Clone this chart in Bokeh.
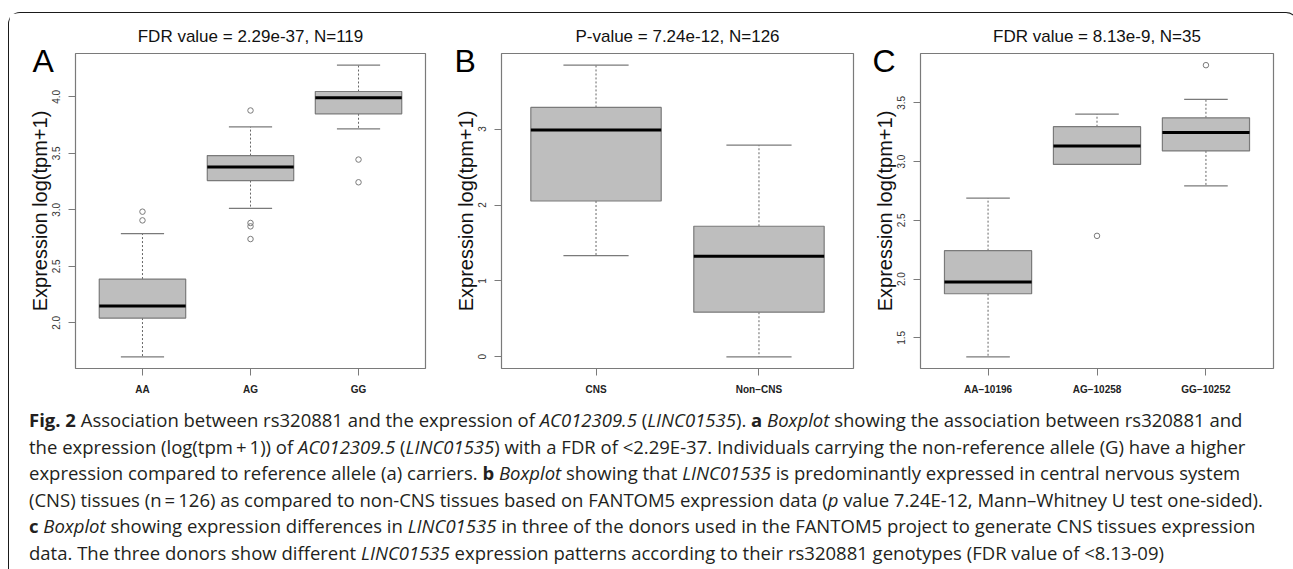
from bokeh.plotting import figure
from bokeh.models import Range1d, FixedTicker, ColumnDataSource, Div
from bokeh.layouts import row, column
from bokeh.embed import file_html
from bokeh.resources import INLINE

# ---------------- data ----------------
A_title = "FDR value = 2.29e-37, N=119"
A_cats = ["AA", "AG", "GG"]
A_lower = [1.700, 3.014, 3.717]
A_q1 = [2.043, 3.259, 3.850]
A_med = [2.149, 3.380, 3.991]
A_q3 = [2.388, 3.480, 4.047]
A_upper = [2.789, 3.734, 4.280]
A_out_cat = ["AA", "AA", "AG", "AG", "AG", "AG", "GG", "GG"]
A_out_val = [2.984, 2.907, 3.879, 2.884, 2.854, 2.742, 3.445, 3.244]
A_yticks = [2.0, 2.5, 3.0, 3.5, 4.0]
A_yticklabels = ["2.0", "2.5", "3.0", "3.5", "4.0"]

B_title = "P-value = 7.24e-12, N=126"
B_cats = ["CNS", "Non\u2212CNS"]
B_lower = [1.333, 0.0]
B_q1 = [2.053, 0.588]
B_med = [2.987, 1.325]
B_q3 = [3.285, 1.720]
B_upper = [3.842, 2.789]
B_out_cat = []
B_out_val = []
B_yticks = [0, 1, 2, 3]
B_yticklabels = ["0", "1", "2", "3"]

C_title = "FDR value = 8.13e-9, N=35"
C_cats = ["AA\u221210196", "AG\u221210258", "GG\u221210252"]
C_lower = [1.338, 2.976, 2.793]
C_q1 = [1.875, 2.976, 3.091]
C_med = [1.976, 3.133, 3.247]
C_q3 = [2.242, 3.297, 3.373]
C_upper = [2.689, 3.404, 3.530]
C_out_cat = ["AG\u221210258", "GG\u221210252"]
C_out_val = [2.368, 3.821]
C_yticks = [1.5, 2.0, 2.5, 3.0, 3.5]
C_yticklabels = ["1.5", "2.0", "2.5", "3.0", "3.5"]

Y_LABEL = "Expression log(tpm+1)"
PANEL_LETTERS = ["A", "B", "C"]

caption_lines = [
    "<b>Fig. 2</b> Association between rs320881 and the expression of <i>AC012309.5</i> (<i>LINC01535</i>). <b>a</b> <i>Boxplot</i> showing the association between rs320881 and",
    "the expression (log(tpm\u2009+\u20091)) of <i>AC012309.5</i> (<i>LINC01535</i>) with a FDR of &lt;2.29E-37. Individuals carrying the non-reference allele (G) have a higher",
    "expression compared to reference allele (a) carriers. <b>b</b> <i>Boxplot</i> showing that <i>LINC01535</i> is predominantly expressed in central nervous system",
    "(CNS) tissues (n\u2009=\u2009126) as compared to non-CNS tissues based on FANTOM5 expression data (<i>p</i> value 7.24E-12, Mann\u2013Whitney U test one-sided).",
    "<b>c</b> <i>Boxplot</i> showing expression differences in <i>LINC01535</i> in three of the donors used in the FANTOM5 project to generate CNS tissues expression",
    "data. The three donors show different <i>LINC01535</i> expression patterns according to their rs320881 genotypes (FDR value of &lt;8.13-09)",
]

FONT = "Liberation Sans"
GRAY = "#7a7a7a"


def panel(title, cats, lower, q1, med, q3, upper, out_cat, out_val,
          yticks, yticklabels, width, bl, br):
    n = len(cats)
    xs = list(range(1, n + 1))
    allv = lower + upper + out_val
    lo, hi = min(allv), max(allv)
    pad = 0.04 * (hi - lo)
    xr = Range1d(0.5 - 0.04 * n, n + 0.5 + 0.04 * n)
    yr = Range1d(lo - pad, hi + pad)
    p = figure(width=width, height=386, x_range=xr, y_range=yr,
               output_backend="svg", toolbar_location=None,
               min_border_left=bl, min_border_right=br,
               min_border_top=40, min_border_bottom=31, title=title)
    p.title.align = "center"
    p.title.offset = (bl - br) / 2
    p.title.text_font = FONT
    p.title.text_font_size = "17px"
    p.title.text_font_style = "normal"
    p.title.text_color = "#111111"
    p.title.standoff = 15
    p.xgrid.visible = False
    p.ygrid.visible = False
    p.outline_line_color = GRAY
    p.outline_line_width = 1.2
    p.background_fill_color = "white"
    p.border_fill_color = "white"

    ax = p.xaxis[0]
    ax.ticker = FixedTicker(ticks=xs)
    ax.major_label_overrides = {x: c for x, c in zip(xs, cats)}
    ax.axis_line_color = None
    ax.major_tick_out = 7
    ax.major_tick_in = 0
    ax.minor_tick_line_color = None
    ax.major_tick_line_color = GRAY
    ax.major_label_text_font = FONT
    ax.major_label_text_font_size = "10px"
    ax.major_label_text_font_style = "bold"
    ax.major_label_text_color = "#222222"
    ax.major_label_standoff = 8

    ay = p.yaxis[0]
    ay.ticker = FixedTicker(ticks=yticks)
    ay.major_label_overrides = {t: s for t, s in zip(yticks, yticklabels)}
    ay.axis_line_color = None
    ay.major_tick_out = 7
    ay.major_tick_in = 0
    ay.minor_tick_line_color = None
    ay.major_tick_line_color = GRAY
    ay.major_label_orientation = "vertical"
    ay.major_label_text_font = FONT
    ay.major_label_text_font_size = "10px"
    ay.major_label_text_color = "#333333"
    ay.major_label_standoff = 8
    ay.axis_label = Y_LABEL
    ay.axis_label_text_font = FONT
    ay.axis_label_text_font_size = "20px"
    ay.axis_label_text_font_style = "normal"
    ay.axis_label_text_color = "#111111"
    ay.axis_label_standoff = -1

    src = ColumnDataSource(dict(
        x=xs, l=[x - 0.4 for x in xs], r=[x + 0.4 for x in xs],
        cl=[x - 0.2 for x in xs], cr=[x + 0.2 for x in xs],
        lower=lower, q1=q1, med=med, q3=q3, upper=upper))
    p.segment(x0="x", y0="q3", x1="x", y1="upper", source=src,
              line_color="#666666", line_width=1, line_dash="2 2")
    p.segment(x0="x", y0="q1", x1="x", y1="lower", source=src,
              line_color="#666666", line_width=1, line_dash="2 2")
    p.segment(x0="cl", y0="upper", x1="cr", y1="upper", source=src,
              line_color=GRAY, line_width=1.2)
    p.segment(x0="cl", y0="lower", x1="cr", y1="lower", source=src,
              line_color=GRAY, line_width=1.2)
    p.quad(left="l", right="r", bottom="q1", top="q3", source=src,
           fill_color="#bebebe", line_color=GRAY, line_width=1.2)
    p.segment(x0="l", y0="med", x1="r", y1="med", source=src,
              line_color="black", line_width=3)
    if out_val:
        ox = [cats.index(c) + 1 for c in out_cat]
        p.scatter(ox, out_val, marker="circle", size=5.5, fill_color=None,
                  line_color=GRAY, line_width=1)
    return p


pA = panel(A_title, A_cats, A_lower, A_q1, A_med, A_q3, A_upper,
           A_out_cat, A_out_val, A_yticks, A_yticklabels, 430, 66, 14)
pB = panel(B_title, B_cats, B_lower, B_q1, B_med, B_q3, B_upper,
           B_out_cat, B_out_val, B_yticks, B_yticklabels, 422, 62, 8)
pC = panel(C_title, C_cats, C_lower, C_q1, C_med, C_q3, C_upper,
           C_out_cat, C_out_val, C_yticks, C_yticklabels, 426, 59, 14)


def letter_div(txt, left, top):
    html = ('<div style="font-family:\'Liberation Sans\'; font-size:32px; '
            'line-height:32px; color:black;">' + txt + '</div>')
    return Div(text=html, width=30, height=34, margin=0,
               styles={"position": "absolute", "left": f"{left}px",
                       "top": f"{top}px", "z-index": "10"})


dA = letter_div(PANEL_LETTERS[0], 23.5, 32.4)
dB = letter_div(PANEL_LETTERS[1], 445.5, 32.4)
dC = letter_div(PANEL_LETTERS[2], 863.5, 32.4)

cap_html = ('<div style="font-family:\'Open Sans\'; font-size:18.5px; line-height:26.6px; '
            'color:#231f20; white-space:nowrap; padding-left:15px; padding-top:3px;">'
            + "<br>".join(caption_lines) + "</div>")
cap = Div(text=cap_html, width=1278, height=168)

border = "1.5px solid #1a1a1a"
layout = column(row(pA, pB, pC), cap, dA, dB, dC, margin=(12, 0, 0, 8),
                styles={"border-top": border, "border-left": border,
                        "border-right": border,
                        "border-top-left-radius": "12px",
                        "border-top-right-radius": "12px",
                        "background-color": "white",
                        "position": "relative"})

open("out.html", "w").write(file_html(layout, INLINE))
